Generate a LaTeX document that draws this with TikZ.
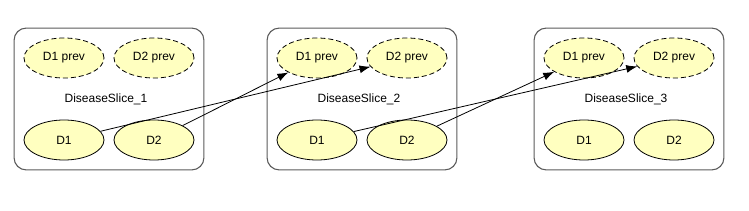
\documentclass[tikz,border=0pt]{standalone}
\usepackage{fontspec}
\setmainfont{Liberation Sans}
\usepackage{tikz}
\usetikzlibrary{arrows.meta,positioning,shapes.geometric,fit,calc}
\usepackage{xcolor}
\definecolor{slicefill}{RGB}{255,255,192}
\definecolor{sliceline}{RGB}{90,90,90}
\tikzset{
    slicenode/.style={ellipse, draw, line width=0.8pt, fill=slicefill, inner sep=0pt, minimum width=80pt, minimum height=40pt, font=\fontsize{12}{14}\selectfont},
    prevnode/.style={slicenode, dash pattern=on 5pt off 3pt},
    slicebox/.style={draw=sliceline, line width=1.1pt, rounded corners=12pt, inner sep=9.5pt},
    slicelabel/.style={font=\fontsize{12}{14}\selectfont},
    slicearrow/.style={-{Latex[length=11pt,width=8pt]}, line width=0.8pt}
}

\begin{document}
\begin{tikzpicture}[x=1pt, y=-1pt]
        \useasboundingbox (0,0) rectangle (749,211);
        \foreach \i/\x in {1/14,2/267,3/534} {
            \node[prevnode] (p1s\i) at (\x+50,58) {D1 prev};
            \node[prevnode] (p2s\i) at (\x+140,58) {D2 prev};
            \node[slicenode] (d1s\i) at (\x+50,140) {D1};
            \node[slicenode] (d2s\i) at (\x+140,140) {D2};
            \node[slicelabel] (ls\i) at (\x+92,99) {DiseaseSlice\_\i};
            \node[slicebox, fit=(p1s\i) (p2s\i) (d1s\i) (d2s\i)] (box\i) {};
        }

        \foreach \a/\b in {d1s1/p2s2,d2s1/p1s2,d1s2/p2s3,d2s2/p1s3}
            \draw[slicearrow] (\a) -- (\b);
    \end{tikzpicture}
\end{document}
